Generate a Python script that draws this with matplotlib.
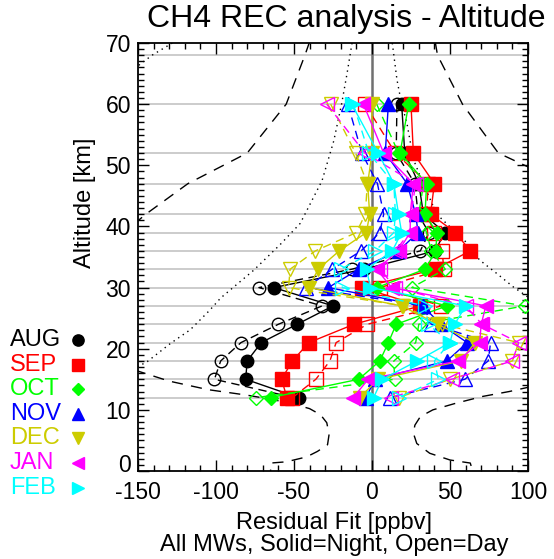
import matplotlib
matplotlib.use("Agg")
import matplotlib.pyplot as plt
from matplotlib.lines import Line2D
from matplotlib.transforms import ScaledTranslation

plt.rcParams['font.family'] = ['Liberation Sans', 'DejaVu Sans']
plt.rcParams['axes.unicode_minus'] = False

# ---------------- data ----------------
altitudes = [60, 52, 47, 42, 39, 36, 33, 30, 27, 24, 21, 18, 15, 12]
grid_levels = [12, 15, 18, 21, 24, 27, 30, 33, 36, 39, 42, 47, 52, 60, 68]

months = ["AUG", "SEP", "OCT", "NOV", "DEC", "JAN", "FEB"]
month_colors = ["#000000", "#ff0000", "#00ff00", "#0000ff", "#cccc00", "#ff00ff", "#00ffff"]
month_markers = ["o", "s", "D", "^", "v", "<", ">"]

aug_night = [19, 21, 30, 33, 46.5, 40.5, -5, -63, -25, -48, -71, -80, -81, -47]
aug_day = [16, 15.5, 27.5, 29.5, 36.5, 31, -13, -72.5, -32, -60, -84, -97, -101, -50]
sep_night = [25, 26.5, 40, 37.5, 53.5, 63, 40.5, -6.5, 31, -11.5, -40.5, -51, -58, -54.5]
sep_day = [-4.5, 15, 36, 35, 40, 45, 46, 5, 44.5, -3, -23, -27, -36, -51]
oct_night = [23.5, 18, 35, 34, 41.5, 41, 34, 3, 48, 15.5, 10.5, 5, -8.5, -65]
oct_day = [3, 17, 33, 30, 35, 38, 47, 25.5, 98, 30, 28, 14, 14.5, -74.5]
nov_night = [10.5, 8.5, 22.5, 28, 29.5, 17, -8.5, -28, 32.5, 44, 61, 48, 2, -4]
nov_day = [-15.5, -6.5, 3.5, 7.5, 5, -7, -25.5, -42, 33, 38, 76, 74.5, 59.5, 11.5]
dec_night = [0, 0, -2.8, -1.5, -3.6, -21, -34.5, -40.5, 19, 42, 66, 57, 4, -8]
dec_day = [-26.5, -10.5, -3, -4.3, -10, -36.3, -52.5, -53.5, 20, 45, 94, 90, 50, 17]
jan_night = [-5.5, 7.5, 26.5, 24.5, 24.5, 17, 3, 12.5, 73, 70, 69, 55, -2.5, -12]
jan_day = [-29, -4.5, 28, 25, 24, 15, 5, 15, 60, 70.5, 94, 90, 51, 12]
feb_night = [-13, 4, 14, 17, 19, 13, -3.5, -1, 60, 53, 50, 29, 6.5, 1]
feb_day = [-12, -2, 14, 15, 14, 2, -20, -19, 34, 36, 50, 40, 42.5, 17]

night_values = [aug_night, sep_night, oct_night, nov_night, dec_night, jan_night, feb_night]
day_values = [aug_day, sep_day, oct_day, nov_day, dec_day, jan_day, feb_day]

# reference envelope curves (x in ppbv, altitude in km)
dash_left_up_x = [-40, -43, -55, -80, -118, -145, -152]
dash_left_up_z = [70.2, 68, 60, 52, 47, 42, 40.5]
dash_left_low_x = [-152, -130, -105, -80, -64, -51, -40, -33, -29, -27.5, -28.5, -35, -42, -55, -65, -65]
dash_left_low_z = [16.5, 14.7, 13.3, 12.4, 11.7, 11.0, 10.2, 9.2, 7.9, 6.0, 4.3, 3.2, 2.3, 1.5, 1.3, 0]
dash_right_up_x = [40.5, 42, 58, 81, 102]
dash_right_up_z = [70.2, 68, 60, 52, 49.5]
dash_right_low_x = [102, 88, 71, 54, 39, 31, 27.5, 26.5, 28.7, 37, 50, 63, 64.5]
dash_right_low_z = [13.8, 13, 12.2, 11.1, 10, 8.9, 7.5, 6.2, 4.5, 2.9, 1.8, 1.3, 0]
dot_left_x = [-12.8, -16, -19.5, -24.5, -32, -46, -59, -76, -97, -104, -116.5, -129, -144, -152]
dot_left_z = [70, 65, 60, 54, 47.5, 40.5, 37, 32.8, 28.3, 26.3, 23.1, 20.9, 17.9, 16.8]
dot_corner_x = [-128, -141, -155]
dot_corner_z = [70, 68, 65.3]
dot_right_x = [13, 16, 19, 22.3, 26.5, 32, 41.5, 60, 69, 80, 90.6, 102]
dot_right_z = [70, 64, 60, 57, 51, 47.5, 42, 37.5, 34.5, 32.3, 30.1, 28.1]

# ---------------- figure ----------------
W, H = 554, 559
fig = plt.figure(figsize=(W / 100, H / 100), dpi=100)
ax = fig.add_axes([138 / W, 1 - 471 / H, 390 / W, 428 / H])
ax.set_xlim(-150, 100)
ax.set_ylim(0, 70)

for g in grid_levels:
    ax.axhline(g, color="#c8c8c8", lw=1.3, zorder=0)
ax.axvline(0, color="#707070", lw=1.8, zorder=1)

ref_kw = dict(color="black", lw=1.0, zorder=2, clip_on=True)
ax.plot(dash_left_up_x, dash_left_up_z, ls=(0, (8, 6)), **ref_kw)
ax.plot(dash_left_low_x, dash_left_low_z, ls=(0, (8, 6)), **ref_kw)
ax.plot(dash_right_up_x, dash_right_up_z, ls=(0, (8, 6)), **ref_kw)
ax.plot(dash_right_low_x, dash_right_low_z, ls=(0, (8, 6)), **ref_kw)
ax.plot(dot_left_x, dot_left_z, ls=(0, (1, 3)), **ref_kw)
ax.plot(dot_corner_x, dot_corner_z, ls=(0, (1, 3)), **ref_kw)
ax.plot(dot_right_x, dot_right_z, ls=(0, (1, 3)), **ref_kw)

ms_map = {"o": 9, "s": 9.5, "D": 7, "^": 10, "v": 10, "<": 10, ">": 10}
for i, m in enumerate(months):
    c = month_colors[i]
    mk = month_markers[i]
    ax.plot(day_values[i], altitudes, color=c, ls=(0, (6, 4)), lw=1.0,
            marker=mk, ms=ms_map[mk], mfc="none", mec=c, mew=1.0, zorder=3 + i)
    ax.plot(night_values[i], altitudes, color=c, ls="-", lw=1.0,
            marker=mk, ms=ms_map[mk], mfc=c, mec=c, mew=1.0, zorder=3 + i)

ax.set_xticks([-150, -100, -50, 0, 50, 100])
ax.set_xticks(range(-150, 101, 10), minor=True)
ax.set_yticks(range(0, 71, 10))
ax.set_yticks(range(0, 71, 1), minor=True)
ax.tick_params(which="both", direction="in", top=True, right=True, labelsize=16.5, width=1.0)
ax.tick_params(which="major", length=8)
ax.tick_params(which="minor", length=4)
ax.tick_params(axis="x", pad=7)
ax.tick_params(axis="y", pad=5)
for s in ax.spines.values():
    s.set_linewidth(1.3)

# shift the bottom y tick label up slightly (as in the reference)
fig.canvas.draw()
ylabs = ax.get_yticklabels()
ylabs[0].set_transform(ylabs[0].get_transform() + ScaledTranslation(0, 8 / 100, fig.dpi_scale_trans))

fig.text(346 / W, 1 - 19 / H, "CH4 REC analysis - Altitude", fontsize=23, ha="center", va="center")
fig.text(85 / W, 1 - 203 / H, "Altitude [km]", fontsize=17, rotation=90, ha="center", va="center")
fig.text(334 / W, 1 - 523 / H, "Residual Fit [ppbv]", fontsize=17, ha="center", va="center")
fig.text(334 / W, 1 - 545 / H, "All MWs, Solid=Night, Open=Day", fontsize=17, ha="center", va="center")

# legend on the left
for i, m in enumerate(months):
    yy = 1 - (340 + i * 24.6) / H
    fig.text(10 / W, yy, m, color=month_colors[i], fontsize=17, va="center", ha="left")
    mk = month_markers[i]
    fig.add_artist(Line2D([78 / W], [yy], transform=fig.transFigure, marker=mk,
                          ms=ms_map[mk] * 0.9, color=month_colors[i], ls="none"))

fig.savefig("out.png", dpi=100)
